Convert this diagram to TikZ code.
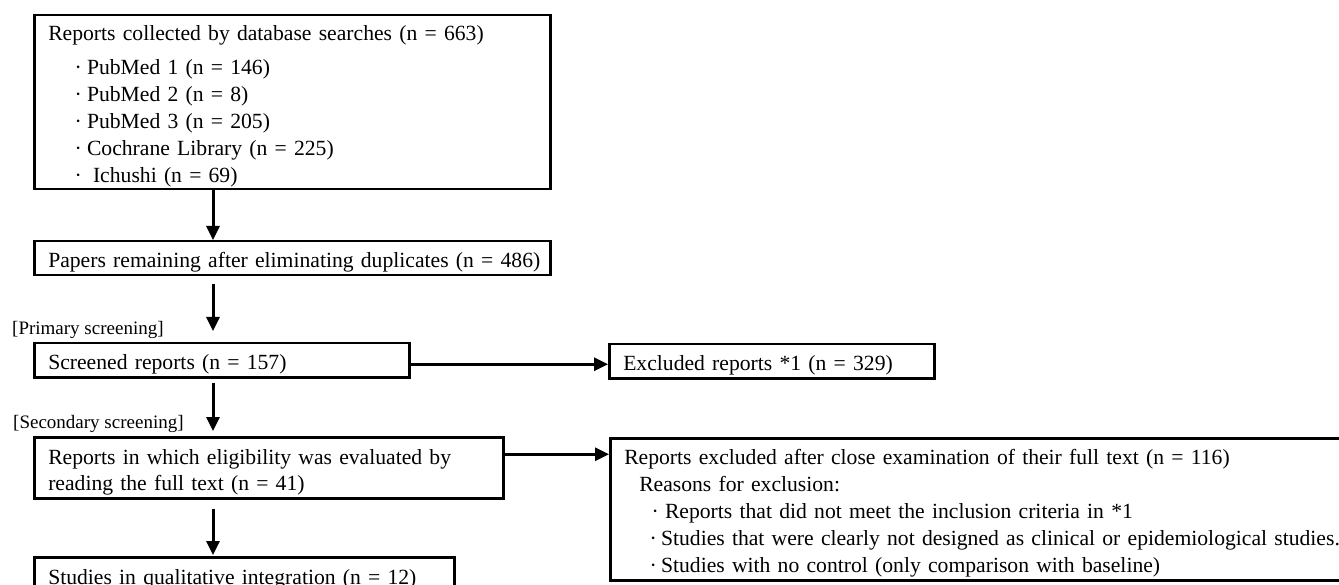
\documentclass[tikz,border=0pt]{standalone}
\usepackage{fontspec}
\setmainfont{Liberation Serif}
\usetikzlibrary{arrows.meta}
\newcommand{\bul}[2]{\hspace*{#1}·\hspace*{#2}}
\newcommand{\oneline}[1]{\mbox{#1}}
\tikzset{
  box/.style={draw, line width=2.5pt, rectangle, anchor=north west,
    inner xsep=14pt, inner ysep=0pt, align=left,
    font=\fontsize{21.65}{27}\selectfont,
    execute at begin node={\rule{0pt}{24pt}}},
  arr/.style={line width=3pt, -{Triangle[length=14pt,width=13pt]}},
  lbl/.style={font=\fontsize{19}{22}\selectfont, inner sep=0pt, anchor=west}
}
\begin{document}
\begin{tikzpicture}[x=1pt,y=-1pt]
\clip (0,0) rectangle (1339,585);
\fill[white] (0,0) rectangle (1339,585);
\coordinate (ax) at (213,0);
\node[box, text width=488pt, minimum height=174pt] (b1) at (33,14)
  {\oneline{Reports collected by database searches (n = 663)}\\[7pt]
   \oneline{\bul{26.3pt}{5.3pt}PubMed 1 (n = 146)}\\
   \oneline{\bul{26.3pt}{5.3pt}PubMed 2 (n = 8)}\\
   \oneline{\bul{26.3pt}{5.3pt}PubMed 3 (n = 205)}\\
   \oneline{\bul{26.3pt}{5.3pt}Cochrane Library (n = 225)}\\
   \oneline{\bul{26.3pt}{11.3pt}Ichushi (n = 69)}};
\node[box, text width=488pt, minimum height=34pt] (b2) at (33,240)
  {\oneline{Papers remaining after eliminating duplicates (n = 486)}};
\node[box, text width=347pt, minimum height=34pt] (b3) at (33,342)
  {\oneline{Screened reports (n = 157)}};
\node[box, text width=297pt, minimum height=34pt] (e1) at (608,343)
  {\oneline{Excluded reports *1 (n = 329)}};
\node[box, text width=441pt, minimum height=61pt,
      font=\fontsize{21.65}{26}\selectfont] (b4) at (33,436)
  {\oneline{Reports in which eligibility was evaluated by}\\
   \oneline{reading the full text (n = 41)}};
\node[box, text width=732pt, minimum height=142pt] (e2) at (609,437)
  {\oneline{Reports excluded after close examination of their full text (n = 116)}\\
   \oneline{\hspace*{15pt}Reasons for exclusion:}\\
   \oneline{\bul{27.3pt}{6.3pt}Reports that did not meet the inclusion criteria in *1}\\
   \oneline{\bul{25.3pt}{4.3pt}Studies that were clearly not designed as clinical or epidemiological studies.}\\
   \oneline{\bul{25.3pt}{4.3pt}Studies with no control (only comparison with baseline)}};
\node[box, text width=392pt, minimum height=36pt] (b5) at (33,556)
  {\oneline{Studies in qualitative integration (n = 12)}};
\node[lbl] (prim) at (12,330) {[Primary screening]};
\node[lbl] (sec) at (13,424) {[Secondary screening]};
\coordinate (p1) at (213,331);
\coordinate (a4) at ([yshift=-4pt]b3.east);
\coordinate (a5) at ([yshift=13.5pt]b4.east);
\draw[arr] (b1.south -| ax) -- (b2.north -| ax);
\draw[arr, shorten <=8pt] (b2.south -| ax) -- (p1);
\draw[arr, shorten <=4pt, shorten >=5pt] (b3.south -| ax) -- (b4.north -| ax);
\draw[arr, shorten <=9pt, shorten >=1pt] (b4.south -| ax) -- (b5.north -| ax);
\draw[arr] (a4) -- (a4 -| e1.west);
\draw[arr] (a5) -- (a5 -| e2.west);
\end{tikzpicture}
\end{document}
